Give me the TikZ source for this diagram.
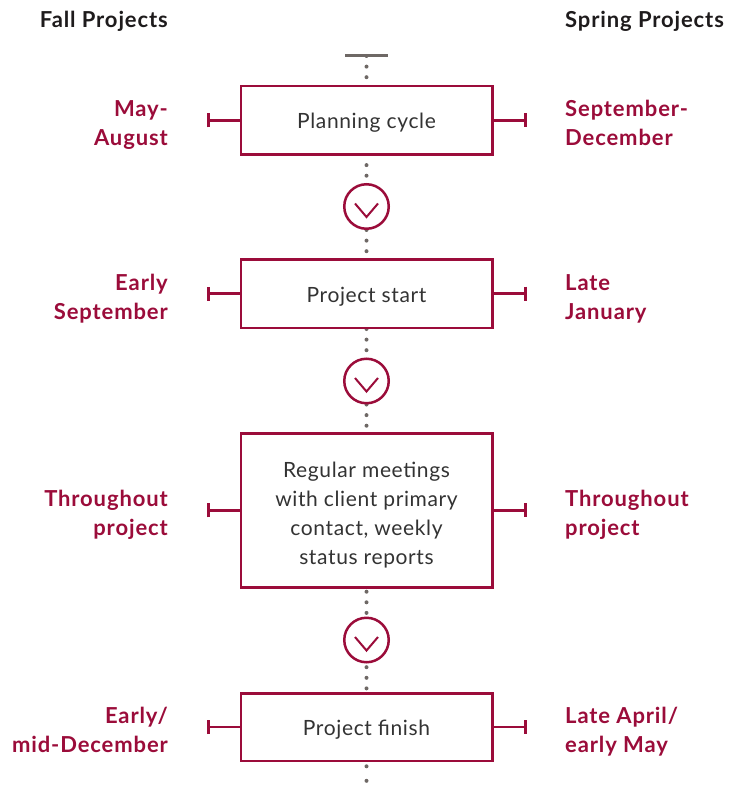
\documentclass[tikz,border=0pt]{standalone}
\usepackage{fontspec}
\setmainfont{Lato}
\usetikzlibrary{arrows.meta,backgrounds}
\definecolor{crim}{RGB}{155,12,58}
\definecolor{dotg}{RGB}{110,104,101}
\definecolor{txtc}{RGB}{51,51,51}
\definecolor{headc}{RGB}{30,27,28}
\begin{document}
\begin{tikzpicture}[x=1pt,y=-1pt,
  box/.style={draw=crim,line width=2.5pt,fill=white,minimum width=251.5pt,inner sep=0pt,text=txtc,font=\fontsize{21}{29}\selectfont\addfontfeatures{LetterSpace=3},align=center},
  onebox/.style={box,text height=17pt,text depth=0pt},
  circ/.style={circle,draw=crim,line width=2.5pt,fill=white,minimum size=44.5pt,inner sep=0pt},
  chev/.style={draw=crim,line width=2pt},
  lab/.style={text=crim,font=\bfseries\fontsize{22}{29}\selectfont\addfontfeatures{LetterSpace=4},inner sep=0pt},
  labl/.style={lab,anchor=east,align=right},
  labr/.style={lab,anchor=west,align=left},
  headnode/.style={text=headc,font=\bfseries\fontsize{22}{25}\selectfont\addfontfeatures{LetterSpace=4},inner sep=0pt},
  dots/.style={draw=dotg,line width=4pt,line cap=round,dash pattern=on 0pt off 10.6pt},
  tick/.style={draw=crim,line width=2.5pt,-{Bar[width=14pt,line width=3pt]}},
]
\useasboundingbox (0,0) rectangle (742,789);

% headers
\node[headnode,anchor=base east] (hfall) at (168,28) {Fall Projects};
\node[headnode,anchor=base west] (hspring) at (565,28) {Spring Projects};

% top bar
\node[fill=dotg,minimum width=43pt,minimum height=3pt,inner sep=0pt,outer sep=0pt] (topbar) at (366.5,56) {};

% boxes
\node[onebox,minimum height=68.2pt] (b1) at (366.5,120.35) {Planning cycle};
\node[onebox,minimum height=68.2pt] (b2) at (366.5,293.65) {Project start};
\node[box,minimum height=154pt] (b3) at (366.5,510.25) {\rule{0pt}{25pt}Regular meetings\\with client primary\\contact, weekly\\status reports};
\node[onebox,minimum height=67.5pt] (b4) at (366.5,727) {Project finish};

% circles
\node[circ] (c1) at (366.5,206.5) {};
\node[circ] (c2) at (366.5,381) {};
\node[circ] (c3) at (366.5,640) {};
\foreach \c in {c1,c2,c3}{
  \draw[chev] ([shift={(-11.5,-3)}]\c.center) -- ++(11.5,13.5) -- ++(11.5,-13.5);
}

\coordinate (end) at (366.5,781);

% dotted connectors
\begin{pgfonlayer}{background}
\draw[dots] (topbar.center) -- (b1.north);
\draw[dots,dash phase=1.2pt] (b1.south) -- (c1.north);
\draw[dots] (c1.south) -- (b2.north);
\draw[dots] (b2.south) -- (c2.north);
\draw[dots] (c2.south) -- (b3.north);
\draw[dots,dash phase=7.4pt] (b3.south) -- (c3.north);
\draw[dots,dash phase=6.9pt] (c3.south) -- (b4.north);
\draw[dots,dash pattern=on 0pt off 14.5pt,dash phase=10.2pt] (b4.south) -- (end);
\end{pgfonlayer}

% ticks
\foreach \b/\y in {b1/120.35,b2/293.65,b3/510.25,b4/727}{
  \coordinate (\b L) at (206.5,\y);
  \coordinate (\b R) at (526.5,\y);
  \draw[tick] (\b.west) -- (\b L);
  \draw[tick] (\b.east) -- (\b R);
}

% labels
\node[labl] (l1) at (168,125.5) {\strut May-\\\strut August};
\node[labr] (r1) at (565,125.5) {\strut September-\\\strut December};
\node[labl] (l2) at (168,298.8) {\strut Early\\\strut September};
\node[labr] (r2) at (565,298.8) {\strut Late\\\strut January};
\node[labl] (l3) at (168,515.4) {\strut Throughout\\\strut project};
\node[labr] (r3) at (565,515.4) {\strut Throughout\\\strut project};
\node[labl] (l4) at (168,732.2) {\strut Early/\\\strut mid-December};
\node[labr] (r4) at (565,732.2) {\strut Late April/\\\strut early May};
\end{tikzpicture}
\end{document}
